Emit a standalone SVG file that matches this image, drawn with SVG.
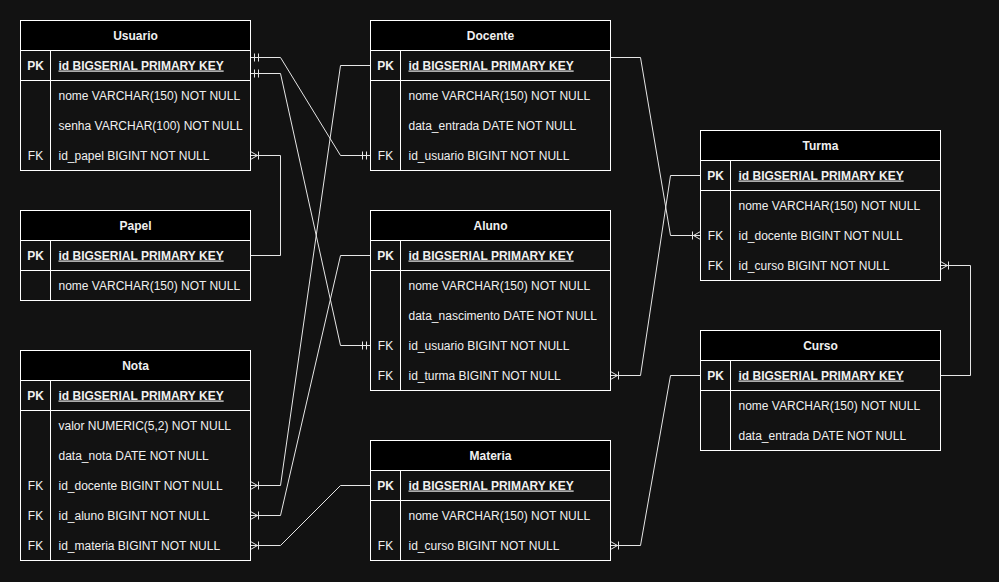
<svg xmlns="http://www.w3.org/2000/svg" width="999" height="582" viewBox="0 0 999 582">
<style>
.bg{fill:#121212}
.box{fill:#121212;stroke:#ffffff;stroke-width:1}
.hd{fill:#000000;stroke:#ffffff;stroke-width:1}
.ln{stroke:#ffffff;stroke-width:1;fill:none}
.t{font-family:"Liberation Sans",Arial,sans-serif;font-size:12px;fill:#f0f0f0}
.b{font-weight:bold}
.c{text-anchor:middle}
.u{text-decoration:underline}
.e{stroke:#e6e6e6;stroke-width:1;fill:none}
</style>
<defs>
<marker id="many" markerUnits="userSpaceOnUse" markerWidth="12" markerHeight="12" refX="0" refY="0" orient="auto" overflow="visible">
<path d="M-7,0 L0,-4 M-7,0 L0,4 M-8,-4 L-8,4" stroke="#e6e6e6" stroke-width="1" fill="none"/>
</marker>
<marker id="one" markerUnits="userSpaceOnUse" markerWidth="12" markerHeight="12" refX="0" refY="0" orient="auto-start-reverse" overflow="visible">
<path d="M-4,-4 L-4,4 M-8,-4 L-8,4" stroke="#e6e6e6" stroke-width="1" fill="none"/>
</marker>
</defs>
<rect class="bg" x="0" y="0" width="999" height="582"/>
<g transform="translate(0.5,0.5)">
<g id="connectors">
<path class="e" d="M250,57 L280,57 L340,155 L370,155" marker-start="url(#one)" marker-end="url(#one)"/>
<path class="e" d="M250,73 L280,73 L340,345 L370,345" marker-start="url(#one)" marker-end="url(#one)"/>
<path class="e" d="M250,255 L280,255 L280,155 L250,155" marker-end="url(#many)"/>
<path class="e" d="M610,57 L640,57 L670,235 L700,235" marker-end="url(#many)"/>
<path class="e" d="M700,175 L670,175 L640,375 L610,375" marker-end="url(#many)"/>
<path class="e" d="M700,375 L670,375 L640,545 L610,545" marker-end="url(#many)"/>
<path class="e" d="M940,375 L970,375 L970,265 L940,265" marker-end="url(#many)"/>
<path class="e" d="M370,65 L340,65 L280,485 L250,485" marker-end="url(#many)"/>
<path class="e" d="M370,255 L340,255 L280,515 L250,515" marker-end="url(#many)"/>
<path class="e" d="M370,485 L340,485 L280,545 L250,545" marker-end="url(#many)"/>
</g>

<g id="usuario">
<rect class="box" x="20" y="20" width="230" height="150"/>
<rect class="hd" x="20" y="20" width="230" height="30"/>
<path class="ln" d="M20,80 L250,80 M50,50 L50,170"/>
<text class="t b c" x="135" y="39">Usuario</text>
<text class="t b c" x="35" y="69">PK</text>
<text class="t b u" x="58" y="69">id BIGSERIAL PRIMARY KEY</text>
<text class="t" x="58" y="99">nome VARCHAR(150) NOT NULL</text>
<text class="t" x="58" y="129">senha VARCHAR(100) NOT NULL</text>
<text class="t c" x="35" y="159">FK</text>
<text class="t" x="58" y="159">id_papel BIGINT NOT NULL</text>
</g>

<g id="papel">
<rect class="box" x="20" y="210" width="230" height="90"/>
<rect class="hd" x="20" y="210" width="230" height="30"/>
<path class="ln" d="M20,270 L250,270 M50,240 L50,300"/>
<text class="t b c" x="135" y="229">Papel</text>
<text class="t b c" x="35" y="259">PK</text>
<text class="t b u" x="58" y="259">id BIGSERIAL PRIMARY KEY</text>
<text class="t" x="58" y="289">nome VARCHAR(150) NOT NULL</text>
</g>

<g id="nota">
<rect class="box" x="20" y="350" width="230" height="210"/>
<rect class="hd" x="20" y="350" width="230" height="30"/>
<path class="ln" d="M20,410 L250,410 M50,380 L50,560"/>
<text class="t b c" x="135" y="369">Nota</text>
<text class="t b c" x="35" y="399">PK</text>
<text class="t b u" x="58" y="399">id BIGSERIAL PRIMARY KEY</text>
<text class="t" x="58" y="429">valor NUMERIC(5,2) NOT NULL</text>
<text class="t" x="58" y="459">data_nota DATE NOT NULL</text>
<text class="t c" x="35" y="489">FK</text>
<text class="t" x="58" y="489">id_docente BIGINT NOT NULL</text>
<text class="t c" x="35" y="519">FK</text>
<text class="t" x="58" y="519">id_aluno BIGINT NOT NULL</text>
<text class="t c" x="35" y="549">FK</text>
<text class="t" x="58" y="549">id_materia BIGINT NOT NULL</text>
</g>

<g id="docente">
<rect class="box" x="370" y="20" width="240" height="150"/>
<rect class="hd" x="370" y="20" width="240" height="30"/>
<path class="ln" d="M370,80 L610,80 M400,50 L400,170"/>
<text class="t b c" x="490" y="39">Docente</text>
<text class="t b c" x="385" y="69">PK</text>
<text class="t b u" x="408" y="69">id BIGSERIAL PRIMARY KEY</text>
<text class="t" x="408" y="99">nome VARCHAR(150) NOT NULL</text>
<text class="t" x="408" y="129">data_entrada DATE NOT NULL</text>
<text class="t c" x="385" y="159">FK</text>
<text class="t" x="408" y="159">id_usuario BIGINT NOT NULL</text>
</g>

<g id="aluno">
<rect class="box" x="370" y="210" width="240" height="180"/>
<rect class="hd" x="370" y="210" width="240" height="30"/>
<path class="ln" d="M370,270 L610,270 M400,240 L400,390"/>
<text class="t b c" x="490" y="229">Aluno</text>
<text class="t b c" x="385" y="259">PK</text>
<text class="t b u" x="408" y="259">id BIGSERIAL PRIMARY KEY</text>
<text class="t" x="408" y="289">nome VARCHAR(150) NOT NULL</text>
<text class="t" x="408" y="319">data_nascimento DATE NOT NULL</text>
<text class="t c" x="385" y="349">FK</text>
<text class="t" x="408" y="349">id_usuario BIGINT NOT NULL</text>
<text class="t c" x="385" y="379">FK</text>
<text class="t" x="408" y="379">id_turma BIGINT NOT NULL</text>
</g>

<g id="materia">
<rect class="box" x="370" y="440" width="240" height="120"/>
<rect class="hd" x="370" y="440" width="240" height="30"/>
<path class="ln" d="M370,500 L610,500 M400,470 L400,560"/>
<text class="t b c" x="490" y="459">Materia</text>
<text class="t b c" x="385" y="489">PK</text>
<text class="t b u" x="408" y="489">id BIGSERIAL PRIMARY KEY</text>
<text class="t" x="408" y="519">nome VARCHAR(150) NOT NULL</text>
<text class="t c" x="385" y="549">FK</text>
<text class="t" x="408" y="549">id_curso BIGINT NOT NULL</text>
</g>

<g id="turma">
<rect class="box" x="700" y="130" width="240" height="150"/>
<rect class="hd" x="700" y="130" width="240" height="30"/>
<path class="ln" d="M700,190 L940,190 M730,160 L730,280"/>
<text class="t b c" x="820" y="149">Turma</text>
<text class="t b c" x="715" y="179">PK</text>
<text class="t b u" x="738" y="179">id BIGSERIAL PRIMARY KEY</text>
<text class="t" x="738" y="209">nome VARCHAR(150) NOT NULL</text>
<text class="t c" x="715" y="239">FK</text>
<text class="t" x="738" y="239">id_docente BIGINT NOT NULL</text>
<text class="t c" x="715" y="269">FK</text>
<text class="t" x="738" y="269">id_curso BIGINT NOT NULL</text>
</g>

<g id="curso">
<rect class="box" x="700" y="330" width="240" height="120"/>
<rect class="hd" x="700" y="330" width="240" height="30"/>
<path class="ln" d="M700,390 L940,390 M730,360 L730,450"/>
<text class="t b c" x="820" y="349">Curso</text>
<text class="t b c" x="715" y="379">PK</text>
<text class="t b u" x="738" y="379">id BIGSERIAL PRIMARY KEY</text>
<text class="t" x="738" y="409">nome VARCHAR(150) NOT NULL</text>
<text class="t" x="738" y="439">data_entrada DATE NOT NULL</text>
</g>
</g>
</svg>
